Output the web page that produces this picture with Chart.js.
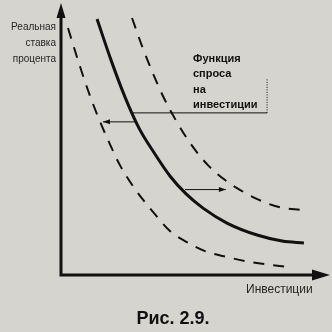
<!DOCTYPE html>
<html lang="ru">
<head>
<meta charset="utf-8">
<script src="https://cdn.jsdelivr.net/npm/chart.js@4/dist/chart.umd.min.js"></script>
<style>
  html, body { margin: 0; padding: 0; background: #d6d4cf; }
  #wrap { width: 332px; height: 332px; }
</style>
</head>
<body>
<div id="wrap"><canvas id="fig29"></canvas></div>
<script>
// Рис. 2.9 - сдвиг функции спроса на инвестиции
// исходная кривая (сплошная)
const demandX = [1.34, 1.86, 2.38, 2.90, 3.49, 4.05, 4.65, 5.28, 6.17, 7.29, 8.22, 9.03];
const demandY = [9.41, 7.90, 6.54, 5.40, 4.45, 3.64, 2.98, 2.46, 1.91, 1.47, 1.25, 1.18];
// сдвиг влево (пунктир)
const leftX = [0.26, 0.63, 1.00, 1.38, 1.75, 2.19, 2.75, 3.42, 4.05, 4.68, 5.35, 6.17, 7.03, 8.44];
const leftY = [9.08, 7.90, 6.80, 5.81, 4.96, 4.04, 3.16, 2.32, 1.62, 1.21, 0.88, 0.66, 0.48, 0.29];
// сдвиг вправо (пунктир)
const rightX = [2.64, 3.01, 3.38, 3.79, 4.24, 4.80, 5.46, 6.10, 6.65, 7.36, 8.10, 8.96];
const rightY = [9.45, 8.42, 7.50, 6.58, 5.74, 4.85, 4.04, 3.49, 3.13, 2.76, 2.50, 2.39];

// стрелки сдвига: [x от, x до, y]
const shiftArrows = [[2.79, 1.56, 5.63], [4.61, 6.13, 3.14]];
// выноска подписи: [x начала, x конца, y, y верха]
const leader = [2.66, 7.66, 5.96, 7.24];

const yTitle = ['Реальная', 'ставка', 'процента'];
const xTitle = 'Инвестиции';
const curveLabel = ['Функция', 'спроса', 'на', 'инвестиции'];
const caption = 'Рис. 2.9.';

const paper = '#d6d4cf';
const ink = '#111111';

const toPoints = (xs, ys) => xs.map((x, i) => ({ x: x, y: ys[i] }));

function arrowHead(ctx, x, y, dir, len, half) {
  // dir: 'up' | 'right' | 'left'
  ctx.beginPath();
  if (dir === 'up') {
    ctx.moveTo(x, y);
    ctx.lineTo(x - half, y + len);
    ctx.lineTo(x + half, y + len);
  } else if (dir === 'right') {
    ctx.moveTo(x, y);
    ctx.lineTo(x - len, y - half);
    ctx.lineTo(x - len, y + half);
  } else {
    ctx.moveTo(x, y);
    ctx.lineTo(x + len, y - half);
    ctx.lineTo(x + len, y + half);
  }
  ctx.closePath();
  ctx.fill();
}

const figurePlugin = {
  id: 'figure',
  beforeDraw(chart) {
    const ctx = chart.ctx;
    ctx.save();
    ctx.fillStyle = paper;
    ctx.fillRect(0, 0, chart.width, chart.height);
    ctx.restore();
  },
  afterDraw(chart) {
    const ctx = chart.ctx;
    const xs = chart.scales.x;
    const ys = chart.scales.y;
    const x0 = xs.getPixelForValue(0);
    const y0 = ys.getPixelForValue(0);
    const xEnd = xs.getPixelForValue(10);
    const yTop = ys.getPixelForValue(10);

    ctx.save();
    ctx.strokeStyle = ink;
    ctx.fillStyle = ink;

    // оси
    ctx.lineWidth = 3;
    ctx.beginPath();
    ctx.moveTo(x0, y0);
    ctx.lineTo(x0, yTop + 10);
    ctx.moveTo(x0 - 1.5, y0);
    ctx.lineTo(xEnd - 12, y0);
    ctx.stroke();
    arrowHead(ctx, x0, yTop, 'up', 15, 4.5);
    arrowHead(ctx, xEnd, y0, 'right', 18, 5.5);

    // стрелки сдвига
    ctx.lineWidth = 1;
    shiftArrows.forEach(a => {
      const xa = xs.getPixelForValue(a[0]);
      const xb = xs.getPixelForValue(a[1]);
      const yy = ys.getPixelForValue(a[2]);
      ctx.beginPath();
      ctx.moveTo(xa, yy);
      ctx.lineTo(xb, yy);
      ctx.stroke();
      arrowHead(ctx, xb, yy, xb > xa ? 'right' : 'left', 7, 2.5);
    });

    // выноска
    const lx1 = xs.getPixelForValue(leader[0]);
    const lx2 = xs.getPixelForValue(leader[1]);
    const ly = ys.getPixelForValue(leader[2]);
    const lyTop = ys.getPixelForValue(leader[3]);
    ctx.beginPath();
    ctx.moveTo(lx1, ly);
    ctx.lineTo(lx2, ly);
    ctx.stroke();
    ctx.setLineDash([1, 1.5]);
    ctx.beginPath();
    ctx.moveTo(lx2, ly);
    ctx.lineTo(lx2, lyTop);
    ctx.stroke();
    ctx.setLineDash([]);

    // подпись кривой
    ctx.font = 'bold 11px "Liberation Sans", Arial, sans-serif';
    ctx.textAlign = 'left';
    ctx.textBaseline = 'alphabetic';
    curveLabel.forEach((t, i) => {
      ctx.fillText(t, 193, ly - 5 - (curveLabel.length - 1 - i) * 15.3);
    });

    // подпись оси Y
    ctx.fillStyle = '#262626';
    ctx.font = '10px "Liberation Sans", Arial, sans-serif';
    ctx.textAlign = 'right';
    yTitle.forEach((t, i) => {
      ctx.fillText(t, x0 - 5, 30 + i * 16);
    });

    // подпись оси X
    ctx.font = '12px "Liberation Sans", Arial, sans-serif';
    ctx.textAlign = 'left';
    ctx.fillText(xTitle, 246, y0 + 18);

    // номер рисунка
    ctx.fillStyle = ink;
    ctx.font = 'bold 18px "Liberation Sans", Arial, sans-serif';
    ctx.textAlign = 'center';
    ctx.fillText(caption, 173, 324);

    ctx.restore();
  }
};

new Chart(document.getElementById('fig29'), {
  type: 'line',
  data: {
    datasets: [
      {
        label: 'Сдвиг влево',
        data: toPoints(leftX, leftY),
        borderColor: ink,
        borderWidth: 2,
        borderDash: [11, 9],
        pointRadius: 0,
        cubicInterpolationMode: 'monotone'
      },
      {
        label: 'Функция спроса на инвестиции',
        data: toPoints(demandX, demandY),
        borderColor: ink,
        borderWidth: 3,
        pointRadius: 0,
        cubicInterpolationMode: 'monotone'
      },
      {
        label: 'Сдвиг вправо',
        data: toPoints(rightX, rightY),
        borderColor: ink,
        borderWidth: 2,
        borderDash: [11, 9],
        pointRadius: 0,
        cubicInterpolationMode: 'monotone'
      }
    ]
  },
  options: {
    responsive: true,
    maintainAspectRatio: false,
    animation: false,
    layout: { padding: { left: 61, top: 3, right: 2, bottom: 57 } },
    plugins: {
      legend: { display: false },
      tooltip: { enabled: false }
    },
    scales: {
      x: { type: 'linear', min: 0, max: 10, display: false },
      y: { type: 'linear', min: 0, max: 10, display: false }
    }
  },
  plugins: [figurePlugin]
});
</script>
</body>
</html>
